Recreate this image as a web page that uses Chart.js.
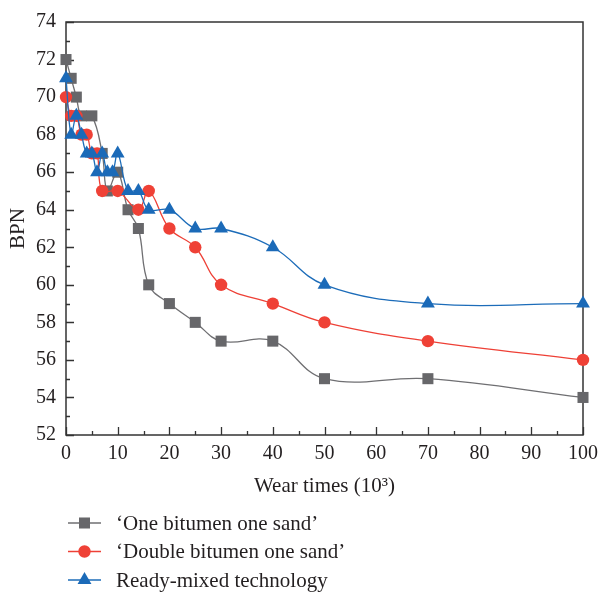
<!DOCTYPE html>
<html>
<head>
<meta charset="utf-8">
<script src="https://cdn.jsdelivr.net/npm/chart.js@4.4.1/dist/chart.umd.min.js"></script>
<style>
html, body { margin: 0; padding: 0; background: #fff; }
</style>
</head>
<body>
<canvas id="bpnChart" width="605" height="597"></canvas>
<script>
// values
const seriesNames = ['\u2018One bitumen one sand\u2019', '\u2018Double bitumen one sand\u2019', 'Ready-mixed technology'];

const oneSandX = [0, 1, 2, 3, 5, 7, 8, 10, 12, 14, 16, 20, 25, 30, 40, 50, 70, 100];
const oneSandY = [72, 71, 70, 69, 69, 67, 65, 66, 64, 63, 60, 59, 58, 57, 57, 55, 55, 54];

const doubleX = [0, 1, 2, 3, 4, 5, 6, 7, 10, 14, 16, 20, 25, 30, 40, 50, 70, 100];
const doubleY = [70, 69, 69, 68, 68, 67, 67, 65, 65, 64, 65, 63, 62, 60, 59, 58, 57, 56];

const readyX = [0, 1, 2, 3, 4, 5, 6, 7, 8, 9, 10, 12, 14, 16, 20, 25, 30, 40, 50, 70, 100];
const readyY = [71, 68, 69, 68, 67, 67, 66, 67, 66, 66, 67, 65, 65, 64, 64, 63, 63, 62, 60, 59, 59];

const xTicksStep = 10;
const yTicksStep = 2;

const serif = "'Liberation Serif', 'DejaVu Serif', serif";
const ink = '#231f20';

function toPoints(xs, ys) {
    return xs.map((x, i) => ({ x: x, y: ys[i] }));
}

function drawMarker(ctx, style, x, y, r, color) {
    ctx.fillStyle = color;
    ctx.beginPath();
    if (style === 'rect') {
        const s = Math.SQRT1_2 * r;
        ctx.rect(x - s, y - s, 2 * s, 2 * s);
    } else if (style === 'circle') {
        ctx.arc(x, y, r, 0, Math.PI * 2);
    } else {
        ctx.moveTo(x, y - r);
        ctx.lineTo(x + r * Math.sin(Math.PI / 3), y + r / 2);
        ctx.lineTo(x - r * Math.sin(Math.PI / 3), y + r / 2);
        ctx.closePath();
    }
    ctx.fill();
}

// box + inward ticks (major and minor)
const frameTicks = {
    id: 'frameTicks',
    beforeDatasetsDraw(chart) {
        const { ctx, chartArea: a, scales } = chart;
        ctx.save();
        ctx.strokeStyle = '#333';
        ctx.lineWidth = 1.5;
        ctx.strokeRect(a.left, a.top, a.right - a.left, a.bottom - a.top);
        ctx.lineWidth = 1.3;
        ctx.beginPath();
        for (let v = 52; v <= 74; v += 1) {
            const py = Math.round(scales.y.getPixelForValue(v)) + 0.5;
            const len = v % 2 === 0 ? 8 : 4;
            ctx.moveTo(a.left, py);
            ctx.lineTo(a.left + len, py);
        }
        for (let v = 0; v <= 100; v += 5) {
            const px = Math.round(scales.x.getPixelForValue(v)) + 0.5;
            const len = v % 10 === 0 ? 8 : 4;
            ctx.moveTo(px, a.bottom);
            ctx.lineTo(px, a.bottom - len);
        }
        ctx.stroke();
        ctx.restore();
    }
};

// legend stacked under the axis title
const stackedLegend = {
    id: 'stackedLegend',
    afterDraw(chart) {
        const ctx = chart.ctx;
        ctx.save();
        chart.data.datasets.forEach((ds, i) => {
            const y = 523 + i * 28.5;
            ctx.strokeStyle = ds.borderColor;
            ctx.lineWidth = 1.3;
            ctx.beginPath();
            ctx.moveTo(68, y);
            ctx.lineTo(101, y);
            ctx.stroke();
            drawMarker(ctx, ds.pointStyle, 84.5, y, ds.pointRadius, ds.pointBackgroundColor);
            ctx.fillStyle = ink;
            ctx.font = '21px ' + serif;
            ctx.textBaseline = 'middle';
            ctx.textAlign = 'left';
            ctx.fillText(ds.label, 116, y + 1);
        });
        ctx.restore();
    }
};

const common = {
    showLine: true,
    fill: false,
    tension: 0.4,
    borderWidth: 1.3,
    pointBorderWidth: 0,
    clip: false
};

new Chart(document.getElementById('bpnChart'), {
    type: 'scatter',
    data: {
        datasets: [
            Object.assign({}, common, {
                label: seriesNames[0],
                data: toPoints(oneSandX, oneSandY),
                borderColor: '#6f6f72',
                pointBackgroundColor: '#67676a',
                pointStyle: 'rect',
                pointRadius: 7.8,
                order: 2
            }),
            Object.assign({}, common, {
                label: seriesNames[1],
                data: toPoints(doubleX, doubleY),
                borderColor: '#ee4036',
                pointBackgroundColor: '#ef4136',
                pointStyle: 'circle',
                pointRadius: 6.2,
                order: 1
            }),
            Object.assign({}, common, {
                label: seriesNames[2],
                data: toPoints(readyX, readyY),
                borderColor: '#1c6cb9',
                pointBackgroundColor: '#1b6ab8',
                pointStyle: 'triangle',
                pointRadius: 8,
                order: 0
            })
        ]
    },
    options: {
        responsive: false,
        animation: false,
        layout: { padding: { top: 16, right: 17, left: 0, bottom: 0 } },
        plugins: {
            legend: { display: false },
            tooltip: { enabled: false }
        },
        scales: {
            x: {
                type: 'linear',
                min: 0,
                max: 100,
                ticks: { stepSize: xTicksStep, color: ink, padding: 7, maxRotation: 0, font: { family: serif, size: 20 } },
                grid: { display: false, drawTicks: false },
                border: { display: false },
                title: {
                    display: true,
                    text: 'Wear times (10\u00B3)',
                    color: ink,
                    font: { family: serif, size: 21 },
                    padding: { top: 0, bottom: 98 }
                },
                afterFit(scale) { scale.height = 162; }
            },
            y: {
                min: 52,
                max: 74,
                ticks: { stepSize: yTicksStep, color: ink, padding: 10, font: { family: serif, size: 20 } },
                grid: { display: false, drawTicks: false },
                border: { display: false },
                title: {
                    display: true,
                    text: 'BPN',
                    color: ink,
                    font: { family: serif, size: 21 },
                    padding: { top: 6, bottom: 0 }
                },
                afterFit(scale) { scale.width = 66; }
            }
        }
    },
    plugins: [frameTicks, stackedLegend]
});
</script>
</body>
</html>
